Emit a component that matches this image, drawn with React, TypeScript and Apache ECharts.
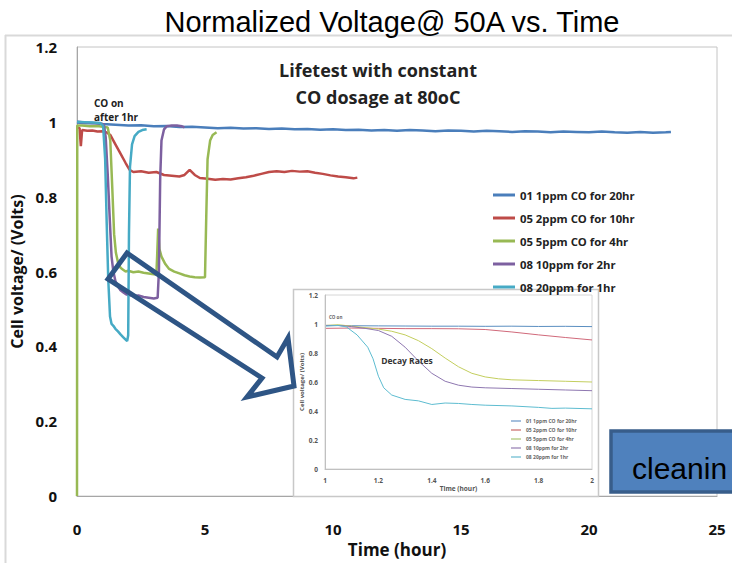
import React, { useEffect, useRef } from "react";
import * as echarts from "echarts";

const seriesNames = [
  "01 1ppm CO for 20hr",
  "05 2ppm CO for 10hr",
  "05 5ppm CO for 4hr",
  "08 10ppm for 2hr",
  "08 20ppm for 1hr",
];
const mainColors = ["#4A7EBB", "#BE4B48", "#98B954", "#7D60A0", "#46AAC5"];
const insetColors = ["#5A8EC0", "#D0697A", "#C3CE5E", "#8E77B0", "#5DBCD0"];

// Main chart (hours, volts)
const blue1ppm: [number, number][] = [
  [0, 0.998], [0.3, 0.996], [0.6, 0.997], [1, 0.994], [1.5, 0.992], [2, 0.99], [2.5, 0.991],
  [3, 0.988], [3.5, 0.989], [4, 0.986], [4.5, 0.987], [5, 0.985], [5.5, 0.983], [6, 0.984],
  [6.5, 0.982], [7, 0.983], [7.5, 0.981], [8, 0.982], [8.5, 0.98], [9, 0.981], [9.5, 0.979],
  [10, 0.98], [10.5, 0.978], [11, 0.979], [11.5, 0.977], [12, 0.978], [12.5, 0.976], [13, 0.978],
  [13.5, 0.977], [14, 0.975], [14.5, 0.977], [15, 0.976], [15.5, 0.974], [16, 0.976], [16.5, 0.975],
  [17, 0.973], [17.5, 0.975], [18, 0.974], [18.5, 0.972], [19, 0.974], [19.5, 0.973], [20, 0.972],
  [20.5, 0.974], [21, 0.972], [21.5, 0.971], [22, 0.973], [22.5, 0.971], [23, 0.972], [23.2, 0.973],
];
const red2ppm: [number, number][] = [
  [0, 0.985], [0.1, 0.983], [0.15, 0.935], [0.2, 0.978], [0.4, 0.976], [0.6, 0.977], [0.8, 0.974],
  [1, 0.975], [1.15, 0.972], [1.3, 0.965], [1.5, 0.94], [1.7, 0.915], [1.9, 0.89], [2.05, 0.872],
  [2.2, 0.866], [2.5, 0.868], [2.8, 0.864], [3.1, 0.866], [3.4, 0.858], [3.7, 0.856], [4, 0.854],
  [4.2, 0.858], [4.4, 0.872], [4.6, 0.858], [4.8, 0.85], [5.1, 0.848], [5.4, 0.845], [5.7, 0.847],
  [6, 0.846], [6.3, 0.849], [6.6, 0.852], [6.9, 0.856], [7.2, 0.861], [7.5, 0.866], [7.8, 0.868],
  [8.1, 0.866], [8.4, 0.869], [8.7, 0.867], [9, 0.868], [9.3, 0.864], [9.6, 0.861], [9.9, 0.857],
  [10.2, 0.854], [10.5, 0.852], [10.8, 0.849], [10.95, 0.851],
];
const green5ppm: [number, number][] = [
  [0, 0], [0.01, 0.99], [0.2, 0.99], [0.5, 0.988], [0.8, 0.989], [1, 0.987], [1.2, 0.985],
  [1.3, 0.95], [1.38, 0.82], [1.45, 0.7], [1.52, 0.65], [1.6, 0.625], [1.7, 0.61], [1.8, 0.605],
  [1.9, 0.6], [2, 0.602], [2.2, 0.598], [2.4, 0.6], [2.6, 0.597], [2.8, 0.595], [3, 0.593],
  [3.1, 0.592], [3.13, 0.64], [3.17, 0.715], [3.22, 0.66], [3.3, 0.64], [3.45, 0.62], [3.6, 0.607],
  [3.8, 0.6], [4, 0.595], [4.2, 0.59], [4.4, 0.587], [4.6, 0.585], [4.8, 0.584], [5, 0.585],
  [5.05, 0.75], [5.1, 0.9], [5.2, 0.95], [5.3, 0.965], [5.45, 0.972],
];
const purple10ppm: [number, number][] = [
  [0, 1.0], [0.3, 0.998], [0.6, 0.997], [0.9, 0.996], [1.05, 0.993], [1.12, 0.96], [1.2, 0.86],
  [1.28, 0.74], [1.35, 0.64], [1.42, 0.6], [1.5, 0.575], [1.6, 0.56], [1.7, 0.55], [1.8, 0.545],
  [1.9, 0.54], [2, 0.537], [2.2, 0.535], [2.4, 0.536], [2.6, 0.532], [2.8, 0.53], [3, 0.528],
  [3.15, 0.53], [3.2, 0.6], [3.25, 0.85], [3.3, 0.95], [3.4, 0.98], [3.5, 0.988], [3.7, 0.99],
  [3.9, 0.99], [4.1, 0.988], [4.2, 0.985],
];
const cyan20ppm: [number, number][] = [
  [0, 1.0], [0.3, 0.999], [0.6, 0.998], [0.9, 0.997], [1.02, 0.99], [1.1, 0.9], [1.16, 0.73],
  [1.22, 0.58], [1.29, 0.48], [1.35, 0.46], [1.42, 0.455], [1.5, 0.447], [1.6, 0.44], [1.7, 0.432],
  [1.8, 0.425], [1.9, 0.418], [1.96, 0.414], [2, 0.43], [2.03, 0.7], [2.07, 0.88], [2.15, 0.94],
  [2.25, 0.962], [2.4, 0.973], [2.55, 0.978], [2.72, 0.98],
];

// Inset chart: decay rates between hour 1 and 2
const insetBlue: [number, number][] = [
  [1, 0.99], [1.1, 0.988], [1.2, 0.987], [1.3, 0.986], [1.4, 0.985], [1.5, 0.985], [1.6, 0.984],
  [1.7, 0.985], [1.8, 0.983], [1.9, 0.984], [2, 0.982],
];
const insetRed: [number, number][] = [
  [1, 0.97], [1.1, 0.972], [1.2, 0.97], [1.3, 0.968], [1.4, 0.968], [1.5, 0.967], [1.6, 0.962],
  [1.7, 0.945], [1.8, 0.925], [1.9, 0.907], [2, 0.89],
];
const insetGreen: [number, number][] = [
  [1, 0.99], [1.05, 0.995], [1.1, 0.985], [1.15, 0.975], [1.2, 0.965], [1.25, 0.95], [1.3, 0.925],
  [1.35, 0.885], [1.4, 0.83], [1.45, 0.765], [1.5, 0.705], [1.55, 0.66], [1.6, 0.635], [1.65, 0.622],
  [1.7, 0.615], [1.8, 0.61], [1.9, 0.605], [2, 0.6],
];
const insetPurple: [number, number][] = [
  [1, 0.99], [1.05, 0.99], [1.1, 0.982], [1.15, 0.97], [1.2, 0.955], [1.25, 0.915], [1.3, 0.84],
  [1.35, 0.745], [1.4, 0.66], [1.45, 0.605], [1.5, 0.578], [1.55, 0.565], [1.6, 0.56], [1.7, 0.555],
  [1.8, 0.55], [1.9, 0.545], [2, 0.54],
];
const insetCyan: [number, number][] = [
  [1, 0.985], [1.05, 0.99], [1.08, 0.98], [1.12, 0.925], [1.16, 0.84], [1.18, 0.76], [1.2, 0.64],
  [1.22, 0.56], [1.25, 0.51], [1.3, 0.48], [1.35, 0.47], [1.4, 0.445], [1.45, 0.455], [1.5, 0.452],
  [1.55, 0.445], [1.6, 0.44], [1.7, 0.435], [1.8, 0.425], [1.85, 0.418], [1.9, 0.42], [2, 0.415],
];

const mainData = [blue1ppm, red2ppm, green5ppm, purple10ppm, cyan20ppm];
const insetData = [insetBlue, insetRed, insetGreen, insetPurple, insetCyan];

const boldFont = "Open Sans";

export default function App() {
  const ref = useRef<HTMLDivElement>(null);
  useEffect(() => {
    if (!ref.current) return;
    const chart = echarts.init(ref.current, null, { renderer: "svg" });
    const option: any = {
      animation: false,
      backgroundColor: "#ffffff",
      title: {
        text: "Normalized Voltage@ 50A vs. Time",
        left: 387,
        top: 2,
        textAlign: "center",
        textStyle: { fontFamily: "Liberation Sans", fontWeight: "normal", fontSize: 29, color: "#000" },
      },
      grid: [
        { left: 77, top: 47, width: 640, height: 450, show: true, borderColor: "#c4c4c4", borderWidth: 1 },
        { left: 325, top: 295, width: 267, height: 174, show: true, borderColor: "#d6d6d6", borderWidth: 1, backgroundColor: "#fff", z: 3 },
      ],
      legend: [
        {
          data: seriesNames,
          orient: "vertical",
          left: 488,
          top: 183,
          itemWidth: 22,
          itemHeight: 3,
          itemGap: 9,
          icon: "rect",
          selectedMode: false,
          textStyle: { fontFamily: boldFont, fontWeight: "bold", fontSize: 11.3, lineHeight: 14, color: "#222" },
        },
        {
          data: seriesNames,
          orient: "vertical",
          left: 506,
          top: 413,
          itemWidth: 10,
          itemHeight: 1,
          itemGap: 3,
          icon: "rect",
          selectedMode: false,
          z: 6,
          textStyle: { fontFamily: boldFont, fontWeight: "bold", fontSize: 5, lineHeight: 6, color: "#666" },
        },
      ],
      xAxis: [
        {
          type: "value", gridIndex: 0, min: 0, max: 25, interval: 5,
          name: "Time (hour)", nameLocation: "middle", nameGap: 44,
          nameTextStyle: { fontFamily: boldFont, fontWeight: "bold", fontSize: 17, color: "#111" },
          axisLine: { lineStyle: { color: "#a6a6a6" } },
          axisTick: { show: false }, splitLine: { show: false },
          axisLabel: { margin: 25, fontFamily: boldFont, fontWeight: "bold", fontSize: 15, color: "#111" },
        },
        {
          type: "value", gridIndex: 1, min: 1, max: 2, interval: 0.2, z: 6,
          name: "Time (hour)", nameLocation: "middle", nameGap: 16,
          nameTextStyle: { fontFamily: boldFont, fontWeight: "bold", fontSize: 6.5, color: "#555" },
          axisLine: { lineStyle: { color: "#c0c0c0" } },
          axisTick: { show: false }, splitLine: { show: false },
          axisLabel: { margin: 8, fontFamily: boldFont, fontWeight: "bold", fontSize: 6.5, color: "#555" },
        },
      ],
      yAxis: [
        {
          type: "value", gridIndex: 0, min: 0, max: 1.2, interval: 0.2,
          name: "Cell voltage/ (Volts)", nameLocation: "middle", nameGap: 47,
          nameTextStyle: { fontFamily: boldFont, fontWeight: "bold", fontSize: 16, color: "#111" },
          axisLine: { show: true, lineStyle: { color: "#a6a6a6" } },
          axisTick: { show: false }, splitLine: { show: false },
          axisLabel: { margin: 20, fontFamily: boldFont, fontWeight: "bold", fontSize: 15, color: "#111" },
        },
        {
          type: "value", gridIndex: 1, min: 0, max: 1.2, interval: 0.2, z: 6,
          name: "Cell voltage/ (Volts)", nameLocation: "middle", nameGap: 20,
          nameTextStyle: { fontFamily: boldFont, fontWeight: "bold", fontSize: 6, color: "#555" },
          axisLine: { show: true, lineStyle: { color: "#c0c0c0" } },
          axisTick: { show: false }, splitLine: { show: false },
          axisLabel: { margin: 7, fontFamily: boldFont, fontWeight: "bold", fontSize: 6.5, color: "#555" },
        },
      ],
      series: [
        ...mainData.map((d, i) => ({
          name: seriesNames[i], type: "line", xAxisIndex: 0, yAxisIndex: 0, data: d,
          showSymbol: false, symbol: "none", color: mainColors[i],
          lineStyle: { width: 2.5, color: mainColors[i] }, z: 2,
        })),
        ...insetData.map((d, i) => ({
          name: seriesNames[i], type: "line", xAxisIndex: 1, yAxisIndex: 1, data: d,
          showSymbol: false, symbol: "none", color: insetColors[i],
          lineStyle: { width: 1, color: insetColors[i] }, z: 5,
        })),
      ],
      graphic: {
        elements: [
          // outer slide frame
          { type: "line", z: 1, shape: { x1: 5, y1: 35.5, x2: 732, y2: 35.5 }, style: { stroke: "#d9d9d9", lineWidth: 2 } },
          { type: "line", z: 1, shape: { x1: 5.5, y1: 35, x2: 5.5, y2: 563 }, style: { stroke: "#d9d9d9", lineWidth: 2 } },
          // annotations
          { type: "text", z: 10, x: 378, y: 70, style: { text: "Lifetest with constant", font: `bold 18px "${boldFont}"`, fill: "#222", align: "center", verticalAlign: "middle" } },
          { type: "text", z: 10, x: 378, y: 97, style: { text: "CO dosage at 80oC", font: `bold 18px "${boldFont}"`, fill: "#222", align: "center", verticalAlign: "middle" } },
          { type: "text", z: 10, x: 94, y: 103, style: { text: "CO on", font: `bold 10px "${boldFont}"`, fill: "#222", align: "left", verticalAlign: "middle" } },
          { type: "text", z: 10, x: 94, y: 117, style: { text: "after 1hr", font: `bold 10px "${boldFont}"`, fill: "#222", align: "left", verticalAlign: "middle" } },
          // inset frame
          { type: "rect", z: 2, shape: { x: 293.5, y: 289.5, width: 305, height: 207 }, style: { fill: "#ffffff", stroke: "#c8c8c8", lineWidth: 1.5 } },
          { type: "text", z: 10, x: 407, y: 360, style: { text: "Decay Rates", font: `bold 8.5px "${boldFont}"`, fill: "#333", align: "center", verticalAlign: "middle" } },
          { type: "text", z: 10, x: 329, y: 317, style: { text: "CO on", font: `bold 4.5px "${boldFont}"`, fill: "#666", align: "left", verticalAlign: "middle" } },
          // hollow arrow
          {
            type: "polygon", z: 50,
            shape: { points: [[127, 253], [277, 357], [288, 338], [294, 386], [247, 397], [262, 378], [108, 279]] },
            style: { fill: "none", stroke: "#2E5585", lineWidth: 5, lineJoin: "miter" },
          },
          // cleaning box
          { type: "rect", z: 50, shape: { x: 611, y: 431, width: 125, height: 61 }, style: { fill: "#4F81BD", stroke: "#385D8A", lineWidth: 3.5 } },
          { type: "text", z: 51, x: 632, y: 468, style: { text: "cleanin", font: `30px "Liberation Sans"`, fill: "#000", align: "left", verticalAlign: "middle" } },
        ],
      },
    };
    chart.setOption(option);
    return () => chart.dispose();
  }, []);
  return <div ref={ref} style={{ position: "absolute", left: 0, top: 0, width: 732, height: 563 }} />;
}
